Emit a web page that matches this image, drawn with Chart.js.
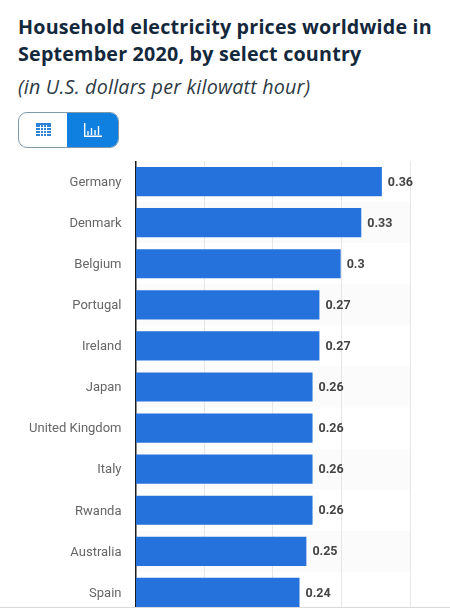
<!DOCTYPE html>
<html>
<head>
<meta charset="utf-8">
<script src="https://cdn.jsdelivr.net/npm/chart.js@4"></script>
<style>
  html, body { margin: 0; padding: 0; background: #fff; }
  body { width: 450px; height: 612px; position: relative; overflow: hidden; }
  h1 { position: absolute; left: 18px; top: 13px; margin: 0; font: bold 19.7px/27px "Open Sans"; color: #14283c; white-space: nowrap; letter-spacing: 0.2px; }
  h2 { position: absolute; left: 18px; top: 73px; margin: 0; font: italic 400 19.7px/27px "Open Sans"; color: #2d3a45; white-space: nowrap; letter-spacing: 0.2px; }
  .toggle { position: absolute; left: 18px; top: 112px; width: 101px; height: 36px; box-sizing: border-box; border: 1px solid #7f99aa; border-radius: 9px; overflow: hidden; background: #fff; }
  .toggle .on { position: absolute; left: 48px; top: -1px; width: 53px; height: 36px; background: #0f80df; }
  .toggle svg { position: absolute; }
  .plot { position: absolute; left: 0; top: 161px; width: 450px; height: 446px; overflow: hidden; }
  .foot { position: absolute; left: 0; top: 607px; width: 450px; height: 1px; background: #d9d9d9; }
</style>
</head>
<body>
<h1>Household electricity prices worldwide in<br>September 2020, by select country</h1>
<h2>(in U.S. dollars per kilowatt hour)</h2>
<div class="toggle">
  <svg style="left:17px;top:10px" width="15" height="13" viewBox="0 0 15 13">
    <path fill="#2f83d6" d="M0 0h15v13H0z"/>
    <path stroke="#fff" stroke-width="1" d="M0 4.5h15M0 7.5h15M0 10.5h15M4.5 2v11M7.5 2v11M10.5 2v11"/>
  </svg>
  <div class="on">
    <svg style="left:17px;top:11px" width="18" height="14" viewBox="0 0 18 14">
      <path stroke="#fff" stroke-width="1.4" fill="none" d="M0.7 0v13.3H18M4 12V8M7.5 12V5M11 12V7M14.5 12V3"/>
    </svg>
  </div>
</div>
<div class="plot"><canvas id="priceChart" width="450" height="452"></canvas></div>
<div class="foot"></div>
<script>
const countries = ['Germany', 'Denmark', 'Belgium', 'Portugal', 'Ireland', 'Japan', 'United Kingdom', 'Italy', 'Rwanda', 'Australia', 'Spain'];
const prices = [0.359, 0.329, 0.299, 0.268, 0.268, 0.258, 0.258, 0.258, 0.258, 0.249, 0.239];

// alternate row shading behind the bars
const rowStripes = {
  id: 'rowStripes',
  beforeDraw(chart) {
    const { ctx, chartArea, scales } = chart;
    const band = scales.y.getPixelForValue(1) - scales.y.getPixelForValue(0);
    ctx.save();
    ctx.fillStyle = '#fbfbfb';
    countries.forEach((c, i) => {
      if (i % 2 === 1) {
        ctx.fillRect(chartArea.left, scales.y.getPixelForValue(i) - band / 2, chartArea.width, band);
      }
    });
    ctx.restore();
  }
};

// value labels at the end of each bar, rounded to two places like the source
const valueLabels = {
  id: 'valueLabels',
  afterDatasetsDraw(chart) {
    const { ctx } = chart;
    ctx.save();
    ctx.font = 'bold 12.5px Roboto';
    ctx.fillStyle = '#444444';
    ctx.textBaseline = 'middle';
    chart.getDatasetMeta(0).data.forEach((bar, i) => {
      ctx.fillText(String(Number(prices[i].toFixed(2))), bar.x + 6, bar.y + 1);
    });
    ctx.restore();
  }
};

new Chart(document.getElementById('priceChart').getContext('2d'), {
  type: 'bar',
  data: {
    labels: countries,
    datasets: [{
      data: prices,
      backgroundColor: '#2672dc',
      borderWidth: 0,
      barPercentage: 1,
      categoryPercentage: 0.71
    }]
  },
  plugins: [rowStripes, valueLabels],
  options: {
    indexAxis: 'y',
    responsive: false,
    animation: false,
    layout: { padding: { left: 0, right: 40, top: 0, bottom: 0 } },
    plugins: { legend: { display: false }, tooltip: { enabled: false } },
    scales: {
      x: {
        min: 0,
        max: 0.4,
        ticks: { display: false, stepSize: 0.1 },
        grid: { color: '#e6e6e6', lineWidth: 1, drawTicks: false },
        border: { display: false }
      },
      y: {
        // tick labels must not push the plot in from the top and bottom
        afterFit(scale) {
          scale.width = 135.5;
          scale.paddingTop = 0;
          scale.paddingBottom = 0;
        },
        ticks: { color: '#666666', font: { family: 'Roboto', size: 13 }, padding: 0, labelOffset: 1 },
        grid: { display: false, drawTicks: true, tickLength: 14 },
        border: { display: true, color: '#1a1a1a', width: 1.5 }
      }
    }
  }
});
</script>
</body>
</html>
